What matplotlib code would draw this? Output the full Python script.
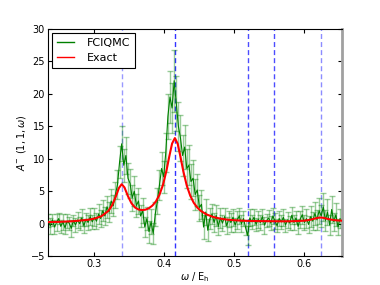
import numpy as np
import matplotlib
matplotlib.use("Agg")
import matplotlib.pyplot as plt

# FCIQMC spectrum, sampled every 0.003 Eh from 0.234
omega_qmc = np.round(np.arange(0.234, 0.6525, 0.003), 3)
a_qmc = [0.5, -0.3, 0.6, -0.5, 0.2, 0.8, -0.4, 0.3, -0.6, 0.4,
         0.1, -0.7, 0.5, -0.2, 0.6, 0.0, 0.9, -0.3, 0.7, 0.2,
         1.1, 0.3, 1.0, 0.4, 1.5, 0.8, 2.0, 1.2, 2.6, 1.8,
         3.5, 2.8, 4.5, 6.0, 9.5, 12.3, 9.0, 10.5, 7.0, 6.2,
         4.0, 5.0, 2.8, 3.5, 1.2, 2.0, -0.5, 0.8, -1.2, 0.3,
         -1.5, 1.5, 3.5, 6.0, 8.5, 7.2, 11.0, 16.5, 19.5, 17.8,
         22.0, 18.5, 15.0, 13.2, 10.5, 11.8, 8.5, 9.0, 6.5, 7.0,
         4.5, 5.2, 2.5, 3.0, -0.5, 1.8, -1.0, 0.8, 1.5, 0.2,
         1.3, -0.4, 0.9, 0.1, 1.1, -0.3, 0.7, 0.2, 1.0, -0.2,
         0.6, 1.2, 0.0, 0.8, -0.6, -1.8, 0.9, 0.3, 1.0, -0.1,
         0.7, 0.2, 1.1, -0.2, 0.5, 0.9, 0.1, 1.2, 0.4, -0.3,
         0.8, 0.3, 1.0, -0.2, 0.6, 0.1, 1.3, 0.2, 0.9, -0.4,
         0.7, 1.4, 0.2, 0.8, -0.1, 1.1, 0.4, 1.6, 0.6, 2.0,
         1.2, 2.6, 0.5, 1.8, -0.2, 2.2, 0.3, 1.4, -0.5, 0.8]
err_qmc = [1.0, 1.2, 0.9, 1.1, 1.3, 0.8, 1.0, 1.2, 0.9, 1.1,
           1.0, 1.3, 0.9, 1.1, 1.2, 1.0, 1.3, 1.1, 1.0, 1.2,
           1.3, 1.1, 1.4, 1.2, 1.5, 1.3, 1.6, 1.4, 1.7, 1.5,
           1.8, 1.6, 2.0, 2.2, 2.5, 2.7, 2.5, 2.8, 2.4, 2.2,
           2.0, 2.3, 1.8, 2.0, 1.7, 1.9, 1.6, 1.8, 1.7, 1.9,
           1.6, 1.8, 2.0, 2.3, 2.6, 2.4, 3.0, 3.5, 4.0, 3.8,
           4.8, 4.2, 3.8, 3.5, 3.2, 3.4, 3.0, 3.1, 2.7, 2.8,
           2.4, 2.5, 2.0, 2.2, 1.8, 2.0, 1.7, 1.6, 1.5, 1.4,
           1.6, 1.3, 1.5, 1.2, 1.4, 1.3, 1.2, 1.4, 1.3, 1.1,
           1.4, 1.2, 1.3, 1.1, 1.2, 1.4, 1.3, 1.1, 1.2, 1.0,
           1.3, 1.2, 1.1, 1.3, 1.0, 1.2, 1.1, 1.3, 1.2, 1.0,
           1.2, 1.1, 1.3, 1.0, 1.2, 1.1, 1.3, 1.2, 1.0, 1.2,
           1.3, 1.4, 1.2, 1.5, 1.3, 1.6, 1.4, 1.8, 1.5, 2.0,
           1.7, 2.2, 1.6, 2.0, 1.5, 2.1, 1.4, 1.8, 1.3, 1.5]

# exact spectrum
omega_ex = [0.233, 0.25, 0.27, 0.29, 0.30, 0.31, 0.32, 0.325, 0.33, 0.335,
            0.339, 0.343, 0.348, 0.353, 0.358, 0.363, 0.368, 0.373, 0.378, 0.383,
            0.388, 0.393, 0.398, 0.403, 0.407, 0.411, 0.415, 0.419, 0.423, 0.427,
            0.432, 0.437, 0.442, 0.447, 0.452, 0.46, 0.47, 0.48, 0.49, 0.50,
            0.51, 0.52, 0.53, 0.54, 0.55, 0.56, 0.57, 0.58, 0.59, 0.60,
            0.605, 0.61, 0.615, 0.62, 0.624, 0.628, 0.633, 0.638, 0.643, 0.648, 0.653]
a_ex = [0.26, 0.30, 0.40, 0.60, 0.79, 1.16, 1.98, 2.78, 4.01, 5.49,
        6.09, 5.59, 4.24, 3.15, 2.51, 2.20, 2.10, 2.17, 2.40, 2.81,
        3.46, 4.47, 5.99, 8.19, 10.35, 12.34, 13.18, 12.31, 10.29, 8.10,
        5.86, 4.30, 3.22, 2.50, 1.99, 1.45, 1.04, 0.79, 0.63, 0.55,
        0.48, 0.44, 0.42, 0.41, 0.40, 0.39, 0.38, 0.39, 0.42, 0.48,
        0.55, 0.66, 0.80, 0.93, 0.96, 0.90, 0.76, 0.64, 0.56, 0.51, 0.48]

# pole positions
poles = [0.339, 0.415, 0.519, 0.556, 0.624]
pole_alpha = [0.4, 0.8, 0.7, 0.7, 0.45]

plt.rcParams['font.size'] = 7
fig = plt.figure(figsize=(3.8, 2.85), dpi=100)
ax = fig.add_axes([0.1255, 0.1007, 0.7737, 0.7986])

for p, al in zip(poles, pole_alpha):
    ax.axvline(p, color='b', ls=(0, (3.6, 2.2)), lw=1, alpha=al, zorder=1)

ax.errorbar(omega_qmc, a_qmc, yerr=err_qmc, fmt='none', ecolor='green',
            elinewidth=1, capsize=2, alpha=0.4, zorder=2)
ax.plot(omega_qmc, a_qmc, color='green', lw=0.8, label='FCIQMC', zorder=3)
ax.plot(omega_ex, a_ex, color='red', lw=1.5, label='Exact', zorder=4)

ax.set_xlim(0.2333, 0.6533)
ax.set_ylim(-5, 30)
ax.set_xticks([0.3, 0.4, 0.5, 0.6])
ax.set_yticks(range(-5, 31, 5))
ax.tick_params(direction='in', top=True, right=True, length=3, pad=2,
               labelsize=7)
ax.set_xlabel(r"$\omega$ / E$_\mathrm{h}$", fontsize=7, labelpad=1)
ax.set_ylabel(r"$A^{-}\ (1,1,\omega)$", fontsize=7, labelpad=2)
ax.spines['right'].set_color('#a0a0a0')
ax.spines['right'].set_linewidth(2)

leg = ax.legend(loc='upper left', fontsize=8, fancybox=False, framealpha=1,
                edgecolor='black', borderaxespad=0.4, handlelength=1.6,
                handletextpad=1.1)
leg.get_frame().set_linewidth(0.8)
for ln in leg.get_lines():
    ln.set_linewidth(1.0)

fig.savefig("out.png", dpi=100)
